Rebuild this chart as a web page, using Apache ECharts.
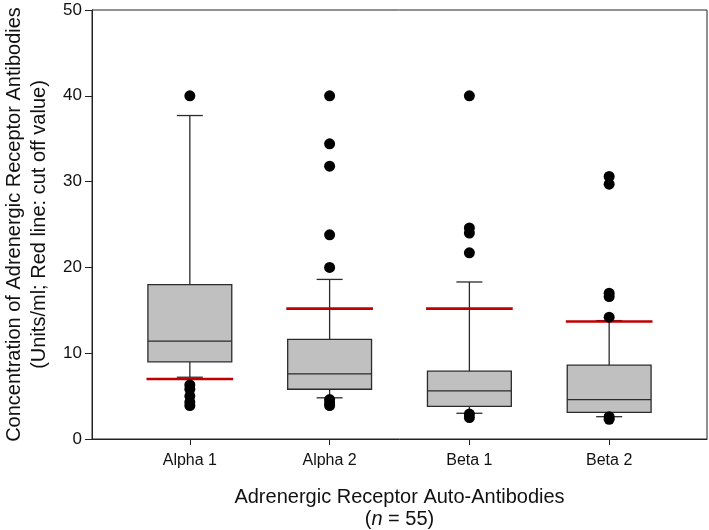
<!DOCTYPE html>
<html>
<head>
<meta charset="utf-8">
<script src="https://cdn.jsdelivr.net/npm/echarts@6/dist/echarts.min.js"></script>
<style>
  html, body { margin: 0; padding: 0; background: #fff; }
  #chart { width: 709px; height: 530px; }
</style>
</head>
<body>
<div id="chart"></div>
<script>
// categories on the x axis (placed at 1..4)
const categories = ['Alpha 1', 'Alpha 2', 'Beta 1', 'Beta 2'];
// box statistics: lower whisker, Q1, median, Q3, upper whisker
const whiskerLow = [7.2, 4.8, 3.0, 2.6];
const q1 = [9.0, 5.8, 3.8, 3.1];
const median = [11.4, 7.6, 5.6, 4.6];
const q3 = [18.0, 11.6, 7.9, 8.6];
const whiskerHigh = [37.7, 18.6, 18.3, 13.8];
// cut off value (red line)
const cutOff = [7.0, 15.2, 15.2, 13.7];
// outliers per category
const outliers = [
  [40, 6.3, 5.8, 5.0, 4.3, 3.9],
  [40, 34.4, 31.8, 23.8, 20.0, 4.6, 4.2, 3.9],
  [40, 24.6, 24.0, 21.7, 2.9, 2.5],
  [30.6, 29.7, 17.0, 16.6, 14.2, 2.6, 2.3]
];
const yTicks = [0, 10, 20, 30, 40, 50];

const FONT = '"Liberation Sans", Arial, sans-serif';
const BOX_HALF = 0.30;   // half box width in x units
const CAP_HALF = 0.093;  // half whisker cap width
const CUT_HALF = 0.31;   // half red line width

const boxData = categories.map((c, i) =>
  [i + 1, whiskerLow[i], q1[i], median[i], q3[i], whiskerHigh[i]]);
const cutData = categories.map((c, i) => [i + 1, cutOff[i]]);
const outlierData = [];
outliers.forEach((list, i) => {
  list.forEach(v => outlierData.push([i + 1, v]));
});

function seg(x1, y1, x2, y2, color, width) {
  return {
    type: 'line',
    shape: { x1: x1, y1: y1, x2: x2, y2: y2 },
    style: { stroke: color, lineWidth: width }
  };
}

function renderBox(params, api) {
  const x = api.value(0);
  const half = api.size([BOX_HALF, 0])[0];
  const cap = api.size([CAP_HALF, 0])[0];
  const lo = api.coord([x, api.value(1)]);
  const b1 = api.coord([x, api.value(2)]);
  const md = api.coord([x, api.value(3)]);
  const b3 = api.coord([x, api.value(4)]);
  const hi = api.coord([x, api.value(5)]);
  const cx = lo[0];
  const col = '#2b2b2b';
  return {
    type: 'group',
    children: [
      seg(cx, b3[1], cx, hi[1], col, 1.3),
      seg(cx - cap, hi[1], cx + cap, hi[1], col, 1.3),
      seg(cx, b1[1], cx, lo[1], col, 1.3),
      seg(cx - cap, lo[1], cx + cap, lo[1], col, 1.3),
      {
        type: 'rect',
        shape: { x: cx - half, y: b3[1], width: half * 2, height: b1[1] - b3[1] },
        style: { fill: '#c0c0c0', stroke: col, lineWidth: 1.3 }
      },
      seg(cx - half, md[1], cx + half, md[1], col, 1.3)
    ]
  };
}

function renderCut(params, api) {
  const x = api.value(0);
  const half = api.size([CUT_HALF, 0])[0];
  const p = api.coord([x, api.value(1)]);
  return seg(p[0] - half, p[1], p[0] + half, p[1], '#c00000', 2.6);
}

const chart = echarts.init(document.getElementById('chart'));
chart.setOption({
  animation: false,
  grid: {
    left: 92, right: 2, top: 10, bottom: 91,
    outerBoundsMode: 'none',
    containLabel: false,
    show: true, borderColor: '#222', borderWidth: 1
  },
  xAxis: {
    type: 'value',
    min: 0.3,
    max: 4.7,
    name: '{a|Adrenergic Receptor Auto-Antibodies}\n{b|(}{i|n}{b| = 55)}',
    nameLocation: 'middle',
    nameGap: 47,
    nameTextStyle: {
      rich: {
        a: { fontFamily: FONT, fontSize: 20, color: '#111', lineHeight: 22 },
        b: { fontFamily: FONT, fontSize: 20, color: '#111', lineHeight: 22 },
        i: { fontFamily: FONT, fontSize: 20, color: '#111', fontStyle: 'italic', lineHeight: 22 }
      }
    },
    splitLine: { show: false },
    axisLine: { show: true, lineStyle: { color: '#222', width: 1 } },
    axisTick: {
      show: true, length: 6, inside: false,
      customValues: [1, 2, 3, 4],
      lineStyle: { color: '#222' }
    },
    axisLabel: {
      customValues: [1, 2, 3, 4],
      formatter: v => categories[Math.round(v) - 1] || '',
      fontFamily: FONT, fontSize: 16, color: '#111', margin: 14
    }
  },
  yAxis: {
    type: 'value',
    min: 0,
    max: 50,
    interval: 10,
    name: 'Concentration of Adrenergic Receptor Antibodies\n(Units/ml; Red line: cut off value)',
    nameLocation: 'middle',
    nameGap: 36,
    nameTextStyle: { fontFamily: FONT, fontSize: 20, color: '#111', lineHeight: 25 },
    splitLine: { show: false },
    axisLine: { show: true, lineStyle: { color: '#222', width: 1 } },
    axisTick: { show: true, length: 7, inside: false, lineStyle: { color: '#222' } },
    axisLabel: {
      fontFamily: FONT, fontSize: 17, color: '#111', margin: 10,
      formatter: v => (yTicks.indexOf(v) >= 0 ? String(v) : '')
    }
  },
  series: [
    {
      type: 'custom',
      renderItem: renderBox,
      data: boxData,
      encode: { x: 0, y: [1, 2, 3, 4, 5] },
      z: 2
    },
    {
      type: 'custom',
      renderItem: renderCut,
      data: cutData,
      encode: { x: 0, y: 1 },
      z: 3
    },
    {
      type: 'scatter',
      data: outlierData,
      symbol: 'circle',
      symbolSize: 11,
      itemStyle: { color: '#000', opacity: 1 },
      z: 4
    }
  ]
});
</script>
</body>
</html>
